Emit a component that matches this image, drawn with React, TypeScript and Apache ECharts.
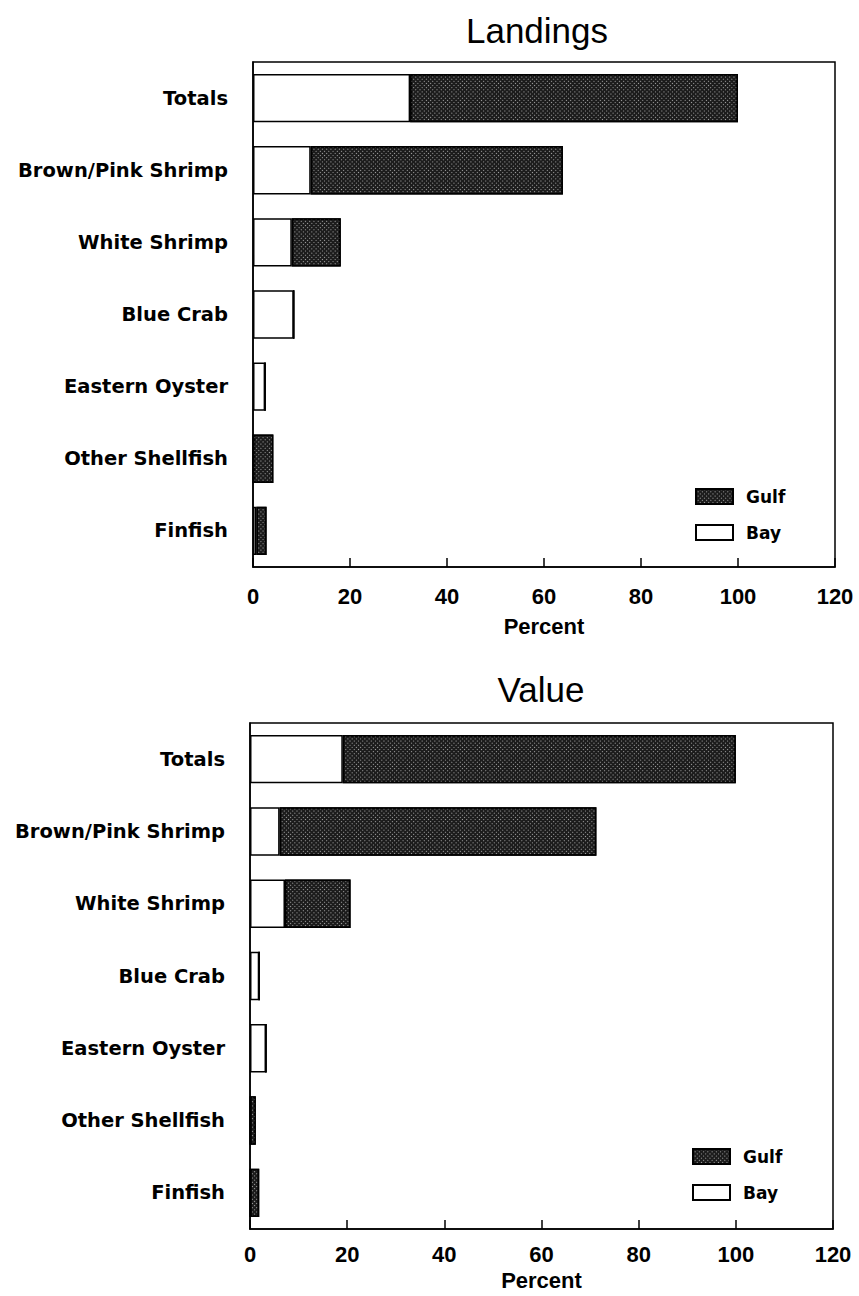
import React, { useEffect, useRef } from "react";
import * as echarts from "echarts";

const categories = [
  "Totals",
  "Brown/Pink Shrimp",
  "White Shrimp",
  "Blue Crab",
  "Eastern Oyster",
  "Other Shellfish",
  "Finfish",
];
const landingsBay = [32.4, 11.9, 8.0, 8.4, 2.5, 0, 0.7];
const landingsGulf = [67.6, 52.0, 10.1, 0, 0, 4.2, 2.1];
const valueBay = [19.1, 6.1, 7.2, 1.9, 3.3, 0, 0];
const valueGulf = [80.9, 65.2, 13.5, 0, 0, 1.2, 1.9];
const titles = ["Landings", "Value"];
const xMin = 0;
const xMax = 120;
const xInterval = 20;
const xName = "Percent";

const gulfStyle = {
  color: "#1c1c1c",
  borderColor: "#000",
  borderWidth: 1.5,
  decal: {
    symbol: "rect",
    symbolSize: 1,
    color: "rgba(255,255,255,0.6)",
    dashArrayX: [1, 2],
    dashArrayY: [1, 2],
    rotation: Math.PI / 4,
  },
};
const bayStyle = { color: "#fff", borderColor: "#000", borderWidth: 1.5 };

export default function App() {
  const ref = useRef<HTMLDivElement>(null);
  useEffect(() => {
    document.body.style.margin = "0";
    const chart = echarts.init(ref.current!, undefined, { renderer: "svg" });
    const grids = [
      { left: 253, top: 62, width: 582, height: 505 },
      { left: 250, top: 723, width: 583, height: 506 },
    ];
    const axisGaps = [
      { margin: 18, nameGap: 48 },
      { margin: 14, nameGap: 40 },
    ];
    const datasets = [
      [landingsBay, landingsGulf],
      [valueBay, valueGulf],
    ];
    const labelFont = { fontFamily: "DejaVu Sans", fontWeight: "bold", color: "#000" };
    const option: any = {
      animation: false,
      backgroundColor: "#fff",
      grid: grids.map((g) => ({
        ...g,
        show: true,
        borderColor: "#000",
        borderWidth: 1.5,
        backgroundColor: "transparent",
      })),
      xAxis: grids.map((_, i) => ({
        type: "value",
        gridIndex: i,
        min: xMin,
        max: xMax,
        interval: xInterval,
        name: xName,
        nameLocation: "middle",
        nameGap: axisGaps[i].nameGap,
        nameTextStyle: {
          fontFamily: "Liberation Sans",
          fontWeight: "bold",
          fontSize: 22,
          color: "#000",
        },
        axisLine: { show: true, lineStyle: { color: "#000", width: 1.5 } },
        axisTick: { show: true, inside: true, length: 9, lineStyle: { color: "#000", width: 1.5 } },
        splitLine: { show: false },
        axisLabel: {
          fontFamily: "Liberation Sans",
          fontWeight: "bold",
          fontSize: 22,
          color: "#000",
          margin: axisGaps[i].margin,
        },
      })),
      yAxis: grids.map((_, i) => ({
        type: "category",
        gridIndex: i,
        data: categories,
        inverse: true,
        axisLine: { show: true, lineStyle: { color: "#000", width: 1.5 } },
        axisTick: { show: false },
        axisLabel: { ...labelFont, fontSize: 19.5, margin: 25 },
      })),
      legend: [
        { left: 690, top: 483 },
        { left: 687, top: 1143 },
      ].map((p) => ({
        ...p,
        orient: "vertical",
        data: ["Gulf", "Bay"],
        itemWidth: 37,
        itemHeight: 15,
        itemGap: 19,
        icon: "rect",
        selectedMode: false,
        textStyle: { ...labelFont, fontSize: 17, padding: [0, 0, 0, 8] },
      })),
      series: datasets.flatMap(([bay, gulf], i) => [
        {
          name: "Bay",
          type: "bar",
          xAxisIndex: i,
          yAxisIndex: i,
          stack: "s" + i,
          barWidth: "67%",
          itemStyle: bayStyle,
          data: bay,
        },
        {
          name: "Gulf",
          type: "bar",
          xAxisIndex: i,
          yAxisIndex: i,
          stack: "s" + i,
          barWidth: "67%",
          itemStyle: gulfStyle,
          data: gulf,
        },
      ]),
      graphic: [
        { x: 537, y: 30, text: titles[0] },
        { x: 541, y: 689, text: titles[1] },
      ].map((t) => ({
        type: "text",
        x: t.x,
        y: t.y,
        style: {
          text: t.text,
          fontFamily: "Liberation Sans",
          fontSize: 35,
          fill: "#000",
          textAlign: "center",
          textVerticalAlign: "middle",
        },
      })),
    };
    chart.setOption(option);
    return () => chart.dispose();
  }, []);
  return <div ref={ref} style={{ width: 859, height: 1296 }} />;
}
